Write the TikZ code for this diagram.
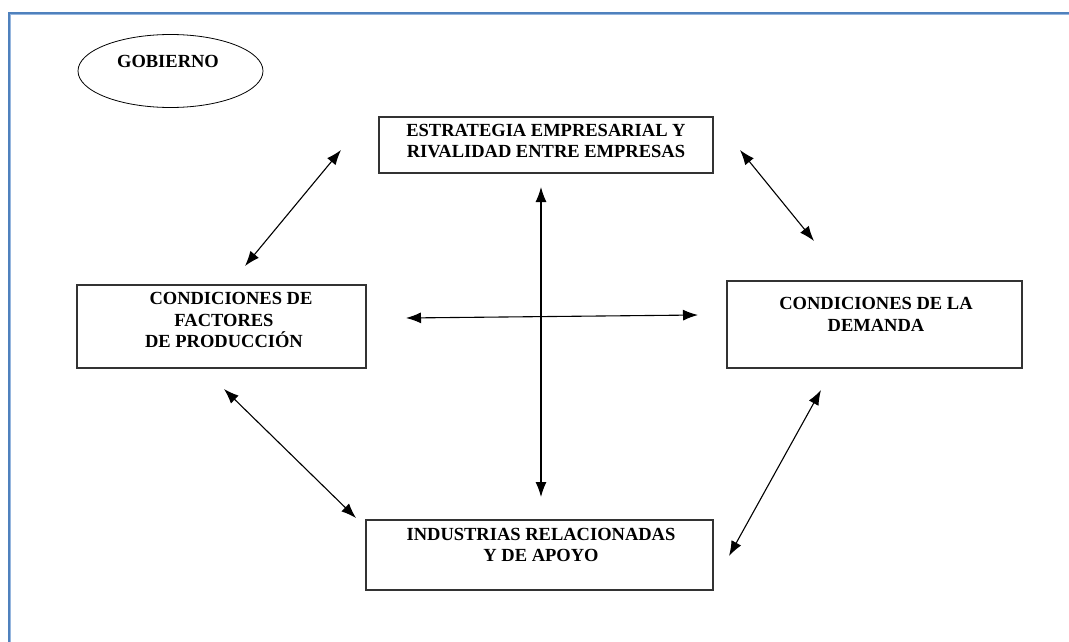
\documentclass[tikz,border=0pt]{standalone}
\usepackage{fontspec}
\setmainfont{Liberation Serif}
\usetikzlibrary{shapes.geometric,arrows.meta}
\definecolor{frameblue}{RGB}{79,129,189}
\definecolor{framelight}{RGB}{150,182,222}
\begin{document}
\begin{tikzpicture}[x=1pt,y=-1pt,
  lbl/.style={font=\bfseries\fontsize{18.5}{21.5}\selectfont, align=center, inner sep=0pt},
  boxline/.style={draw=black!80, line width=1.1pt},
  arr/.style={{Latex[length=15pt,width=11pt]}-{Latex[length=15pt,width=11pt]}, line width=1.1pt}]
\useasboundingbox (0,0) rectangle (1069,642);
% frame
\draw[draw=framelight, line width=1.2pt] (10.6,650) -- (10.6,14.6) -- (1080,14.6);
\draw[draw=frameblue, line width=2.2pt] (9,650) -- (9,13) -- (1080,13);
% ellipse
\node[ellipse, draw, line width=0.8pt, minimum width=185pt, minimum height=73pt] (gob) at (170.5,71) {};
\node[lbl] (gobt) at (168,61.5) {GOBIERNO};
% boxes
\node[boxline, minimum width=334pt, minimum height=56pt] (top) at (546,145) {};
\node[lbl] (topt) at (546,141) {ESTRATEGIA EMPRESARIAL Y\\RIVALIDAD ENTRE EMPRESAS};
\node[boxline, minimum width=289pt, minimum height=83pt] (left) at (221.5,326.5) {};
\node[lbl] (leftt) at (224,320) {\hspace*{14pt}CONDICIONES DE\\FACTORES\\DE PRODUCCIÓN};
\node[boxline, minimum width=295pt, minimum height=87pt] (right) at (874.5,324.5) {};
\node[lbl] (rightt) at (876,314.5) {CONDICIONES DE LA\\DEMANDA};
\node[boxline, minimum width=347pt, minimum height=70pt] (bot) at (539.5,555) {};
\node[lbl] (bott) at (541,545) {INDUSTRIAS RELACIONADAS\\Y DE APOYO};
% arrow endpoints
\coordinate (a1) at (341,150); \coordinate (a2) at (245,266);
\coordinate (b1) at (740,150); \coordinate (b2) at (814,241);
\coordinate (c1) at (406,318); \coordinate (c2) at (698,315);
\coordinate (d1) at (541,187); \coordinate (d2) at (541,497);
\coordinate (e1) at (224,389); \coordinate (e2) at (356,518);
\coordinate (f1) at (821,390); \coordinate (f2) at (729,556);
\draw[arr] (a1) -- (a2);
\draw[arr] (b1) -- (b2);
\draw[arr] (c1) -- (c2);
\draw[arr] (d1) -- (d2);
\draw[arr] (e1) -- (e2);
\draw[arr] (f1) -- (f2);
\end{tikzpicture}
\end{document}
